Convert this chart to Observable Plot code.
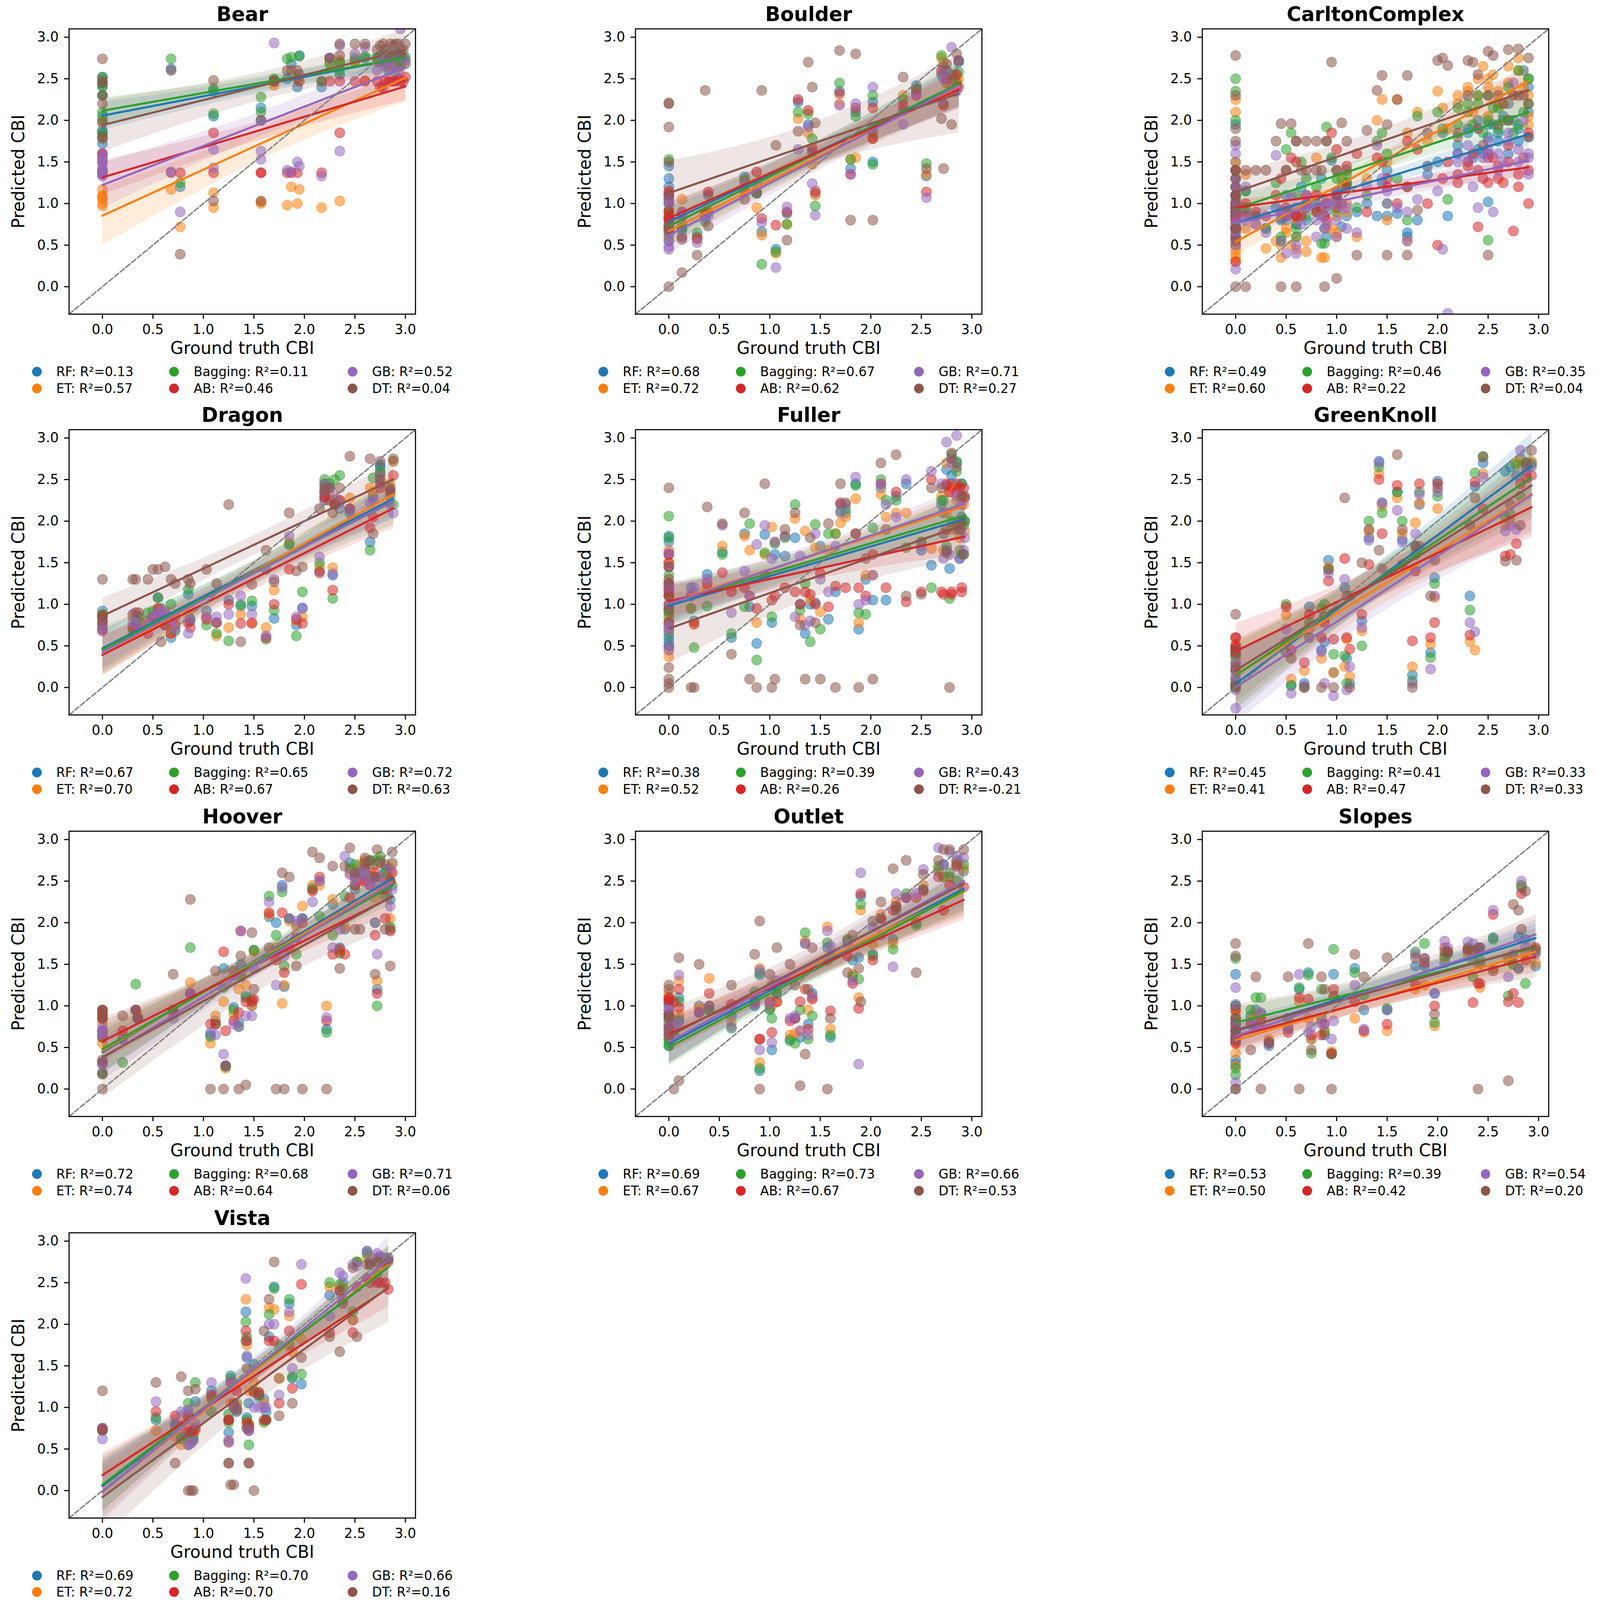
<!DOCTYPE html>
<html><head><meta charset="utf-8">
<script src="https://cdn.jsdelivr.net/npm/d3@7"></script>
<script src="https://cdn.jsdelivr.net/npm/@observablehq/plot@0.6"></script>
<style>
html,body{margin:0;padding:0;background:#fff;overflow:hidden;}
#root{position:relative;background:#fff;overflow:hidden;font-family:"DejaVu Sans",sans-serif;}
.panel{position:absolute;}
.leg{position:absolute;display:flex;align-items:center;color:#000;white-space:nowrap;font-family:"DejaVu Sans",sans-serif;}
.leg span.m{display:inline-block;border-radius:50%;}
</style></head><body><div id="root"></div>
<script>
const models = ["RF","ET","Bagging","AB","GB","DT"];
const colors = ["#1f77b4","#ff7f0e","#2ca02c","#d62728","#9467bd","#8c564b"];
const lims = [-0.33, 3.10];
const tickValues = [0,0.5,1,1.5,2,2.5,3];

// ---- Bear ----
const bearX  = [0,0,0,0,0,0,0,0, 0.68,0.77, 1.1,1.1, 1.57,1.57, 1.7, 1.83,1.87,1.93,1.95, 2.17, 2.25,2.35,2.35, 2.5,2.6, 2.75,2.8,2.85,2.9,2.95,3.0, 2.72,2.78,2.83,2.88,2.93,2.98];
const bearRF = [2.52,2.42,1.85,1.72,2.05,2.3,2.45,1.88, 2.62,1.2, 2.35,2.05, 2.15,2.0, 2.48, 2.5,2.68,2.4,2.78, 2.4, 2.75,2.55,2.68, 2.72,2.75, 2.78,2.72,2.8,2.75,2.7,2.68, 2.75,2.7,2.78,2.72,2.8,2.75];
const bearET = [1.17,1.07,0.97,1.05,2.0,1.08,1.0,1.1, 1.17,0.72, 1.13,0.95, 1.0,1.02, 2.42, 0.98,1.2,1.0,1.17, 0.95, 2.7,1.03,2.72, 2.7,2.48, 2.75,2.7,2.8,2.72,2.65,2.7, 2.7,2.75,2.68,2.72,2.65,2.75];
const bearBag = [2.52,2.45,2.0,1.8,2.1,2.3,2.4,1.85, 2.74,1.25, 2.38,2.08, 2.28,2.1, 2.5, 2.74,2.76,2.5,2.77, 2.47, 2.68,2.7,2.6, 2.75,2.77, 2.7,2.8,2.75,2.58,2.7,2.76, 2.75,2.72,2.6,2.78,2.7,2.75];
const bearAB = [1.6,1.55,1.38,1.4,1.35,1.6,1.5,1.38, 1.37,1.37, 1.85,1.37, 1.37,1.37, 2.47, 1.37,1.37,1.37,2.47, 1.37, 2.47,1.85,2.47, 2.47,2.47, 2.4,2.47,2.47,2.47,2.47,2.52, 2.47,2.4,2.47,2.47,2.5,2.47];
const bearGB = [1.6,1.5,1.42,1.33,1.38,1.55,1.48,1.35, 1.38,0.9, 1.65,1.43, 1.63,1.53, 2.93, 1.4,1.38,1.5,1.45, 1.33, 2.75,1.63,2.9, 2.8,2.88, 2.7,2.65,2.6,2.8,3.1,2.72, 2.6,2.75,2.7,2.65,2.6,2.75];
const bearDT = [2.74,2.48,2.2,2.3,1.97,1.8,2.45,1.78, 2.6,0.39, 2.48,1.03, 1.03,2.0, 2.47, 2.6,2.6,2.6,2.55, 2.47, 2.75,2.92,2.78, 2.92,2.92, 2.9,2.85,2.92,2.92,2.8,2.92, 2.85,2.92,2.8,2.9,2.92,2.85];
const bearR2 = [0.13,0.57,0.11,0.46,0.52,0.04];

// ---- Boulder ----
const boulderX  = [0,0,0,0,0,0,0,0, 0.13,0.13, 0.28,0.36,0.39, 0.75,0.87,0.92,1.06,1.17, 1.28,1.38,1.42,1.45, 1.69,1.8,1.85, 2.02,2.02, 2.32,2.45,2.55, 2.7,2.72,2.75,2.8,2.85,2.87];
const boulderRF = [1.45,1.3,1.2,0.6,0.55,0.9,0.82,1.0, 0.7,0.68, 0.6,0.85,1.1, 1.32,1.12,0.66,0.45,0.88, 2.22,1.95,1.62,1.12, 2.35,1.42,2.1, 2.22,1.5, 2.12,2.42,1.33, 2.55,2.65,2.45,2.5,2.4,2.7];
const boulderET = [1.1,0.75,0.7,0.9,0.82,1.05,0.68,0.6, 1.05,0.6, 0.57,0.9,0.92, 1.28,0.95,0.62,0.4,0.75, 2.02,1.85,1.47,1.1, 2.2,1.53,1.55, 1.8,1.78, 2.3,2.35,1.35, 2.75,2.7,2.45,2.55,2.48,2.5];
const boulderBag = [1.53,1.1,0.7,0.82,0.9,0.65,0.75,1.0, 0.75,0.7, 0.65,0.78,0.9, 1.28,1.13,0.27,0.42,0.75, 2.1,2.08,1.78,0.97, 2.45,1.53,2.05, 2.3,1.47, 2.25,2.38,1.48, 2.78,2.2,2.6,2.55,2.45,2.58];
const boulderAB = [1.12,1.15,0.92,0.82,0.8,1.05,0.7,0.85, 0.9,0.85, 0.58,0.88,1.14, 1.15,1.38,0.82,0.74,0.9, 2.25,2.12,1.67,1.15, 2.32,1.35,2.15, 2.15,1.78, 2.18,2.3,1.14, 2.6,2.18,2.5,2.35,2.55,2.4];
const boulderGB = [1.05,1.0,0.48,0.45,0.55,0.65,0.72,1.08, 0.88,0.6, 0.53,0.82,0.85, 1.25,1.23,0.77,0.23,0.96, 1.65,1.92,1.24,0.86, 2.18,1.35,2.2, 2.4,1.92, 1.95,2.32,1.07, 2.25,2.5,2.6,2.88,2.35,2.72];
const boulderDT = [2.21,2.2,1.92,1.5,0.72,0.68,0.0,1.1, 0.57,0.17, 0.38,2.36,0.73, 1.05,1.13,2.36,1.7,0.56, 1.87,2.7,2.4,1.97, 2.84,0.8,2.8, 1.85,0.8, 2.52,2.38,1.42, 2.02,1.42,2.68,1.95,2.8,2.72];
const boulderR2 = [0.68,0.72,0.67,0.62,0.71,0.27];

// ---- CarltonComplex ----
const carltonX  = [0,0,0,0,0,0,0,0,0,0, 0.1,0.2,0.3,0.4,0.45,0.5,0.55,0.6,0.65,0.7, 0.8,0.85,0.9,0.95,1.0,1.05,1.1,1.2,1.3,1.4, 1.45,1.5,1.6,1.7,1.8,1.9,2.0,2.05,2.1,2.2, 2.3,2.35,2.4,2.5,2.55,2.6,2.7,2.75,2.8,2.9,2.9, 0.1,0.45,0.6,0.88,1.0,1.5,1.7,2.5, 0,0,0,0,0, 0.5,0.6,0.7,0.8,0.9,1.0,1.1, 2.2,2.3,2.4,2.45,2.5,2.6,2.65,2.7,2.8,2.85,2.9];
const carltonRF = [1.95,1.5,1.2,0.9,0.7,1.0,0.5,1.3,0.85,0.6, 1.15,0.85,0.7,0.95,0.82,1.1,0.9,0.75,1.2,0.8, 0.95,1.3,0.6,1.52,1.1,0.72,1.25,0.9,1.0,0.85, 1.25,1.4,0.88,0.65,0.8,1.35,1.5,1.85,0.85,1.6, 1.9,1.55,1.65,1.02,1.95,1.75,1.6,2.0,1.9,2.4,2.1, 0.9,0.8,0.85,0.7,1.1,0.85,0.6,1.8, 0.8,0.7,0.95,0.6,1.05, 0.8,0.75,0.95,1.0,0.9,1.15,0.85, 1.7,1.85,2.0,1.6,1.95,1.85,2.05,2.2,1.75,2.6,1.8];
const carltonET = [2.25,2.1,1.5,0.3,0.5,0.8,0.35,1.0,0.6,0.45, 1.35,0.75,0.46,0.55,0.35,0.7,0.5,0.6,0.9,0.42, 1.55,0.35,1.05,0.7,0.65,1.3,0.9,0.6,1.3,2.0, 2.25,1.5,2.25,1.85,2.1,1.75,2.35,2.15,1.9,2.3, 2.35,2.1,2.5,2.4,2.55,2.2,2.65,2.3,2.6,1.95,2.05, 0.7,0.5,0.45,0.35,0.6,0.8,0.55,2.05, 0.55,0.7,0.4,0.9,0.6, 0.65,0.8,0.55,0.9,0.7,0.85,1.0, 2.2,2.4,2.3,2.65,2.5,2.35,2.2,2.45,2.75,2.4,2.3];
const carltonBag = [2.5,2.35,2.0,1.1,0.8,1.2,0.6,1.4,0.9,0.7, 1.15,0.85,0.7,1.25,0.55,1.65,1.85,0.6,1.5,1.3, 0.9,0.52,1.92,1.55,1.0,1.2,1.35,0.95,1.1,1.75, 1.85,1.6,1.3,1.2,2.05,1.45,2.1,1.9,1.05,2.15, 2.2,1.95,2.3,0.56,2.15,1.9,2.0,1.85,2.6,2.5,2.2, 0.95,0.6,0.7,0.52,0.9,1.0,0.8,2.0, 0.9,0.75,1.0,0.65,0.85, 0.9,1.1,0.85,1.2,1.0,1.3,1.25, 1.95,2.1,2.2,1.85,2.3,2.15,2.0,2.4,1.95,2.1,2.5];
const carltonAB = [1.4,1.1,0.9,0.95,0.7,0.3,1.2,0.85,1.0,0.6, 1.0,0.9,0.85,1.1,1.3,0.85,1.55,1.5,0.85,1.0, 1.1,0.95,0.8,1.85,1.65,1.0,1.45,1.6,0.9,1.55, 1.5,1.2,1.0,1.75,1.65,1.0,0.5,1.3,1.5,1.25, 1.45,1.6,0.72,1.25,1.55,1.3,1.7,0.67,1.2,1.0,1.85, 0.85,0.9,0.85,0.85,0.95,1.3,1.2,1.55, 0.95,0.8,1.1,0.85,1.0, 0.95,0.85,1.1,0.9,1.0,1.05,1.2, 1.35,1.5,1.4,1.3,1.6,1.45,1.25,1.5,1.35,1.55,1.4];
const carltonGB = [1.7,1.6,1.3,1.0,0.8,0.5,0.21,1.2,0.9,0.65, 1.2,0.75,0.65,1.58,0.9,0.4,1.1,0.5,0.75,0.95, 0.6,0.85,0.75,1.0,0.6,0.95,0.7,0.65,1.2,1.7, 1.3,1.15,0.95,0.55,1.05,1.45,1.15,0.45,-0.32,1.5, 1.55,1.2,0.95,1.65,0.9,1.4,1.75,2.45,1.5,1.55,1.35, 0.8,0.55,0.4,0.7,0.8,1.0,0.9,1.6, 0.9,0.75,1.0,0.6,1.1, 0.85,0.95,1.1,0.8,1.0,1.15,0.95, 1.6,1.7,1.9,1.55,1.75,1.6,1.5,1.85,1.65,2.0,1.6];
const carltonDT = [2.78,2.3,1.9,1.75,1.4,0.7,0.0,0.55,1.1,1.4, 1.4,1.4,1.4,1.75,1.96,1.4,1.96,1.75,1.4,1.75, 1.75,1.4,1.75,2.7,1.4,1.97,1.75,0.38,1.88,2.36, 2.54,1.95,2.25,2.54,0.92,1.85,2.72,2.75,2.66,1.85, 2.72,2.7,2.55,2.83,2.78,2.3,2.85,2.3,2.86,2.75,1.8, 0.0,0.0,0.0,0.0,0.1,0.38,0.38,0.38, 1.1,0.9,1.3,1.0,0.7, 1.4,1.75,1.4,1.4,1.75,1.4,1.4, 1.8,2.3,1.9,1.7,2.3,1.95,2.2,2.0,2.3,2.3,2.2];
const carltonR2 = [0.49,0.60,0.46,0.22,0.35,0.04];

// ---- Dragon ----
const dragonX  = [0,0,0, 0.3,0.33,0.36, 0.45,0.5,0.55,0.58,0.62,0.68,0.72, 0.85,0.87,1.03,1.13,1.25,1.37,1.48, 1.62,1.7,1.85,1.92,1.98, 2.15,2.2,2.28,2.35,2.45, 2.65,2.68,2.75,2.88, 2.2,2.25,2.3,2.75,2.85];
const dragonRF = [0.92,0.85,0.7, 0.88,0.75,0.8, 0.8,0.78,1.08,0.95,0.88,0.6,0.85, 1.12,0.8,0.92,0.78,1.05,0.98,0.98, 1.42,0.83,1.72,0.75,0.95, 1.4,2.25,1.35,2.15,2.15, 1.75,2.3,2.68,2.72, 2.35,2.4,2.2,2.65,2.4];
const dragonET = [0.88,0.78,0.72, 0.85,0.72,0.8, 0.78,0.75,0.95,0.9,0.92,0.65,0.85, 0.88,0.95,0.85,0.62,0.72,0.88,0.78, 0.72,1.17,1.75,0.8,0.85, 1.45,2.45,1.44,2.25,2.28, 2.4,2.35,2.55,2.72, 2.4,2.3,2.25,2.5,2.45];
const dragonBag = [0.85,0.88,0.75, 0.68,0.8,0.85, 0.9,0.92,1.08,0.82,0.75,1.0,0.68, 1.18,0.82,0.75,0.65,0.56,1.0,1.04, 0.58,0.93,1.72,0.62,1.15, 1.5,2.45,1.07,2.55,2.1, 1.65,2.52,2.58,2.2, 2.5,2.45,2.5,2.6,2.3];
const dragonAB = [0.68,0.78,0.85, 0.72,0.9,0.7, 0.65,0.85,0.95,0.88,0.75,0.65,0.75, 0.78,0.72,0.82,0.78,1.0,0.77,0.77, 0.6,1.0,1.42,0.82,0.77, 1.38,2.28,1.17,2.25,2.15, 1.92,2.05,2.4,2.55, 2.3,2.25,2.2,2.45,2.35];
const dragonGB = [0.72,0.8,0.7, 0.78,0.85,0.72, 0.75,0.85,0.9,0.92,0.9,0.82,0.7, 0.65,0.82,0.85,0.85,0.88,1.1,0.88, 0.62,1.3,1.82,0.85,0.96, 1.57,2.35,1.37,2.22,2.12, 2.22,2.25,2.45,2.1, 2.45,2.4,2.3,2.55,2.2];
const dragonDT = [1.3,0.87,0.8, 1.3,1.3,0.9, 1.3,1.42,1.42,0.55,1.45,1.3,1.25, 1.3,1.25,1.42,1.25,2.2,0.55,1.24, 1.65,1.27,2.1,1.4,1.45, 2.15,2.4,2.1,2.4,2.78, 2.75,1.85,2.72,2.75, 2.35,2.4,2.2,2.5,2.38];
const dragonR2 = [0.67,0.70,0.65,0.67,0.72,0.63];

// ---- Fuller ----
const fullerX  = [0,0,0,0,0,0,0,0,0,0, 0.22,0.25,0.38,0.53,0.62,0.75,0.8,0.87,0.95,1.02, 1.05,1.15,1.25,1.3,1.35,1.4,1.45,1.5,1.58,1.65, 1.7,1.75,1.85,1.88,1.95,2.02,2.1,2.15,2.25,2.35, 2.5,2.6,2.72,2.75,2.78,2.8,2.85,2.88,2.9,2.93, 2.7,2.75,2.8,2.85,2.9,2.92];
const fullerRF = [1.82,1.6,1.2,0.55,0.6,1.75,0.95,1.15,0.5,0.85, 1.2,0.8,1.36,1.63,0.6,1.85,0.97,0.53,1.84,0.78, 1.6,1.58,1.8,1.0,0.65,1.0,1.02,1.7,0.82,1.15, 2.2,2.1,2.45,0.7,1.3,1.05,2.4,1.05,2.3,2.45, 1.65,1.47,2.1,2.62,1.43,2.55,2.7,1.55,2.45,2.0, 2.2,1.65,2.45,1.9,2.05,1.6];
const fullerET = [1.65,1.2,0.37,1.0,0.45,1.5,0.8,1.1,0.7,0.9, 0.95,0.78,1.2,1.7,1.22,1.82,1.65,0.78,1.6,1.93, 1.75,1.82,2.03,0.83,1.88,1.05,1.68,0.91,1.65,1.85, 1.98,2.05,2.27,0.78,1.35,1.35,2.32,2.05,2.1,2.1, 1.75,1.67,1.65,2.7,2.35,2.4,2.25,1.8,2.3,1.88, 2.3,2.1,1.9,2.4,2.0,2.2];
const fullerBag = [2.06,1.8,1.35,0.65,0.5,1.1,0.9,0.95,1.25,0.78, 0.95,0.48,0.98,1.6,0.65,0.97,1.97,0.33,1.62,0.85, 1.73,1.8,2.2,0.93,1.25,0.55,1.96,0.7,1.85,1.85, 2.12,2.15,2.43,0.9,0.88,1.92,2.5,2.25,2.25,1.68, 1.75,1.2,2.25,1.65,1.07,2.8,2.72,1.65,1.6,2.0, 2.25,1.7,2.0,2.6,2.45,1.95];
const fullerAB = [1.6,1.5,1.2,1.15,1.1,1.25,1.18,0.78,1.45,1.0, 1.1,0.76,1.25,1.38,1.15,1.2,1.1,0.95,1.35,1.05, 1.1,1.2,1.15,1.0,1.15,1.12,1.0,1.37,0.97,1.22, 2.22,1.2,1.85,1.2,1.1,1.6,2.45,1.2,2.35,1.03, 1.15,2.5,1.12,2.43,2.35,1.15,2.45,2.4,1.15,2.28, 1.15,2.45,1.12,2.35,1.2,2.4];
const fullerGB = [1.62,1.45,1.25,0.75,0.72,0.5,1.0,0.68,0.45,1.2, 1.1,1.2,1.3,1.95,0.9,1.4,1.1,1.72,1.95,1.55, 1.75,1.82,0.85,1.58,0.75,0.8,1.85,1.3,1.15,1.7, 2.1,2.2,2.53,1.0,1.05,1.35,2.45,2.2,2.05,2.5, 1.7,2.6,1.55,2.95,1.6,2.75,3.03,1.55,2.2,1.8, 2.45,1.65,2.7,2.3,1.9,1.65];
const fullerDT = [2.4,1.3,1.1,0.24,0.1,1.45,0.0,0.93,1.25,0.05, 0.0,0.0,2.17,1.97,0.4,2.1,0.1,0.0,2.45,0.0, 0.1,1.9,2.1,0.75,0.1,1.8,0.78,0.1,1.97,0.0, 2.45,2.22,1.85,0.0,1.55,0.1,2.7,1.9,2.8,1.1, 1.12,2.4,1.85,1.62,0.0,2.82,2.65,1.9,2.0,2.3, 2.4,1.9,2.75,1.95,2.3,1.6];
const fullerR2 = [0.38,0.52,0.39,0.26,0.43,-0.21];

// ---- GreenKnoll ----
const gkX  = [0,0,0,0,0,0, 0.5,0.55,0.68,0.73,0.85,0.88,0.92,0.97,1.08,1.1, 1.13,1.25,1.32,1.42,1.45,1.6,1.65,1.75,1.78,1.82, 1.93,1.97,2.0,2.32,2.37,2.45,2.67,2.72,2.78,2.82, 2.88,2.93];
const gkRF = [0.02,0.45,0.1,0.3,0.05,0.4, 0.55,0.03,0.05,0.97,0.45,0.55,1.53,0.18,1.2,0.35, 0.05,0.8,1.8,2.72,2.22,2.35,1.78,0.15,1.7,2.2, 0.42,1.32,2.48,1.1,2.42,2.7,2.6,2.65,2.55,2.75, 2.65,2.7];
const gkET = [0.1,0.52,0.05,0.45,0.2,0.35, 0.87,0.1,0.2,0.75,0.35,0.85,1.45,0.18,0.25,0.58, 0.13,0.68,1.88,2.57,2.18,2.28,1.85,0.25,1.98,2.22, 0.52,1.08,2.15,0.55,0.45,2.57,1.95,2.0,2.7,2.72, 2.6,2.72];
const gkBag = [0.38,0.45,0.05,0.02,0.4,0.0, 1.0,0.02,0.0,0.78,0.95,1.0,1.42,0.4,0.38,0.05, 1.1,0.5,2.0,2.65,2.1,2.35,2.0,0.08,1.6,2.35, 0.36,1.25,2.3,0.93,2.58,2.78,2.05,2.08,2.68,2.3, 2.7,2.68];
const gkAB = [0.6,0.48,0.45,0.5,0.6,0.42, 0.97,0.45,0.3,0.88,0.6,0.78,1.28,0.58,1.55,0.6, 0.46,0.88,1.48,2.5,1.85,2.43,1.48,0.56,1.4,2.45, 0.6,0.78,2.45,0.63,2.47,2.15,1.58,1.6,1.73,2.45, 2.52,2.55];
const gkGB = [0.3,-0.03,0.15,-0.25,0.1,0.2, 0.7,-0.07,0.02,0.7,0.43,0.05,1.37,-0.1,1.3,-0.03, 0.25,0.72,1.77,2.7,2.22,2.13,1.75,0.05,1.85,2.32, 0.22,1.1,2.35,0.78,0.67,2.53,1.88,1.95,1.9,2.85, 2.62,2.65];
const gkDT = [0.88,0.25,0.0,0.02,0.45,0.22, 0.42,0.35,0.0,0.6,0.0,0.85,1.42,0.0,2.28,1.1, 0.0,1.5,1.9,1.65,1.43,2.8,1.9,0.0,1.7,1.7, 1.1,1.53,2.4,1.95,2.28,2.77,1.52,2.2,1.53,1.95, 2.7,2.85];
const gkR2 = [0.45,0.41,0.41,0.47,0.33,0.33];

// ---- Hoover ----
const hooverX  = [0,0,0,0,0,0, 0.2,0.33,0.35,0.7,0.87, 1.07,1.12,1.2,1.22,1.3,1.35,1.37,1.42,1.48,1.5, 1.65,1.72,1.78,1.8,1.85,1.92,1.98,2.08,2.15,2.22, 2.28,2.35,2.4,2.45,2.5,2.55,2.6,2.65,2.7,2.72, 2.75,2.8,2.85,2.87, 2.5,2.6,2.7,2.8,2.85];
const hooverRF = [0.95,0.7,0.2,0.65,0.85,0.3, 0.6,0.95,0.85,0.95,1.15, 0.65,0.82,1.45,0.28,0.98,0.8,1.5,1.12,1.0,1.67, 2.07,2.0,2.45,1.23,2.05,1.98,2.05,2.42,2.5,0.72, 2.22,1.7,1.92,2.72,2.4,2.6,2.65,2.55,2.7,1.2, 2.75,2.4,2.28,2.72, 2.6,2.7,2.55,2.65,2.5];
const hooverET = [0.92,0.8,0.55,0.68,0.88,0.3, 0.62,0.95,0.88,0.95,1.28, 0.55,0.88,1.05,0.25,0.9,1.2,1.38,1.25,1.0,1.65, 2.1,1.7,1.03,1.25,2.02,1.95,2.2,2.45,2.45,1.0, 2.28,1.65,1.95,2.6,2.55,2.7,2.75,2.6,2.3,1.3, 2.75,2.5,2.05,2.7, 2.65,2.6,2.7,2.55,2.6];
const hooverBag = [0.95,0.62,0.18,0.7,0.85,0.32, 0.32,1.26,0.85,0.95,1.7, 0.63,0.78,1.22,0.27,0.95,0.75,1.35,1.1,1.08,1.67, 2.32,1.85,2.37,1.48,2.05,1.62,2.05,2.4,2.08,0.68, 1.85,1.63,2.32,2.65,2.45,2.6,2.6,2.75,2.0,1.0, 2.8,2.32,1.95,2.45, 2.7,2.55,2.75,2.6,2.5];
const hooverAB = [0.95,0.85,0.9,0.7,0.62,0.32, 0.7,0.95,0.85,0.92,1.15, 0.78,0.78,1.65,0.7,0.82,0.92,1.9,1.05,1.05,1.08, 2.12,1.55,2.12,1.4,1.7,1.82,2.0,2.38,2.55,0.82, 1.62,1.68,1.62,2.3,2.55,2.5,2.65,2.45,1.85,1.15, 2.4,2.05,1.9,2.6, 2.45,2.5,2.6,2.4,2.5];
const hooverGB = [0.75,0.7,0.32,0.65,0.68,0.3, 0.6,0.95,0.85,0.85,1.15, 0.68,0.65,0.42,0.28,0.78,0.75,1.9,0.88,0.88,1.45, 2.25,1.25,2.42,1.6,2.05,2.02,2.05,2.25,2.5,0.86, 1.7,1.92,2.8,2.58,2.5,2.62,2.55,2.45,2.0,1.62, 2.55,2.45,2.2,2.4, 2.55,2.6,2.5,2.45,2.65];
const hooverDT = [0.95,0.9,0.18,0.0,0.85,0.35, 0.88,0.95,0.85,1.38,2.28, 0.0,1.42,0.0,0.28,1.42,0.0,1.6,0.05,1.88,1.2, 1.7,0.0,2.6,0.0,2.55,1.48,0.0,2.85,2.78,0.0, 2.68,1.45,2.68,2.9,1.92,1.92,2.78,2.75,1.38,2.88, 2.72,1.92,1.48,2.85, 2.6,2.72,2.55,2.7,1.92];
const hooverR2 = [0.72,0.74,0.68,0.64,0.71,0.06];

// ---- Outlet ----
const outletX  = [0,0,0,0,0,0, 0.05,0.1,0.1,0.3,0.4,0.62, 0.85,0.9,0.9,1.0,1.02,1.07,1.2,1.25, 1.3,1.35,1.38,1.42,1.57,1.6,1.77,1.82,1.88,1.9, 2.02,2.1,2.22,2.25,2.35,2.45,2.52,2.67,2.72,2.78, 2.85,2.92];
const outletRF = [1.0,0.75,0.52,0.9,1.05,0.6, 0.7,1.1,0.85,1.0,0.95,0.88, 1.0,1.37,0.22,0.97,0.47,1.15,0.6,0.85, 0.62,1.75,0.78,1.15,1.7,0.62,1.78,1.55,1.58,2.32, 1.62,2.05,1.8,2.2,2.3,2.0,2.4,2.62,2.7,2.55, 2.75,2.62];
const outletET = [1.1,0.85,0.62,0.95,1.15,0.7, 0.75,1.3,0.9,0.98,1.33,0.8, 1.05,1.45,0.32,1.0,1.0,1.05,0.65,0.67, 0.7,1.78,0.95,1.1,1.95,0.72,1.8,1.38,1.1,2.15, 1.75,2.1,1.75,2.25,2.3,2.05,2.45,2.65,2.55,2.55, 2.72,2.65];
const outletBag = [0.55,0.8,0.52,0.9,0.85,0.6, 0.65,1.05,0.82,0.92,0.95,0.73, 1.17,1.4,0.25,0.95,0.85,1.15,0.58,0.55, 0.95,1.88,0.6,0.88,1.76,0.65,1.8,1.35,1.32,2.22, 1.6,2.05,1.68,2.18,2.35,1.97,2.4,2.68,2.55,2.6, 2.5,2.7];
const outletAB = [1.08,0.9,0.65,1.05,1.1,0.75, 1.05,1.2,0.98,0.92,1.15,1.02, 1.05,0.6,0.6,1.05,0.68,1.05,0.82,0.85, 1.05,1.2,0.72,1.08,1.55,0.94,1.6,1.27,0.97,2.35, 1.55,2.05,2.15,2.2,2.3,2.3,2.38,2.55,2.15,2.45, 2.68,2.43];
const outletGB = [0.95,0.75,0.65,0.85,0.95,0.7, 0.75,1.37,0.8,0.92,1.0,0.75, 1.02,1.43,0.47,1.02,0.56,1.3,0.85,0.88, 0.7,1.75,0.65,1.12,1.9,1.72,1.75,1.3,0.3,2.6, 1.95,1.85,1.47,2.35,2.3,2.35,2.64,2.9,2.7,2.85, 2.8,2.78];
const outletDT = [1.25,0.85,0.72,1.2,0.88,0.65, 0.0,1.58,0.1,1.5,1.0,1.25, 1.62,2.02,0.0,1.38,1.25,1.7,1.5,1.25, 0.04,0.42,1.2,1.7,0.0,0.85,1.4,1.85,1.45,1.05, 2.02,2.25,2.65,2.15,2.75,1.4,2.58,2.75,2.88,2.88, 2.7,2.88];
const outletR2 = [0.69,0.67,0.73,0.67,0.66,0.53];

// ---- Slopes ----
const slopesX  = [0,0,0,0,0,0,0,0, 0.15,0.2,0.25,0.33,0.52,0.63,0.72,0.75,0.85,0.88, 0.95,0.97,1.18,1.27,1.5,1.78,1.87,1.97,2.07,2.1, 2.3,2.35,2.4,2.42,2.55,2.7,2.75,2.8,2.83,2.87, 2.97];
const slopesRF = [1.38,0.35,0.3,0.85,0.6,1.0,0.7,0.78, 0.88,0.95,0.9,0.52,0.75,1.2,1.4,0.6,0.85,0.65, 0.42,1.38,1.45,0.95,0.95,1.48,1.48,1.15,1.52,1.65, 1.65,1.55,1.7,1.5,1.82,1.55,1.6,1.83,2.42,1.8, 1.48];
const slopesET = [0.95,0.43,0.28,0.8,0.55,0.9,0.62,0.68, 0.82,0.9,0.85,0.6,0.72,1.05,0.85,0.6,0.8,0.7, 0.45,1.1,0.85,0.68,0.7,1.2,1.25,0.76,1.58,1.65, 1.6,1.62,1.5,1.22,1.45,1.58,1.5,1.45,2.45,1.62, 1.52];
const slopesBag = [1.57,0.17,0.25,0.85,1.0,1.0,0.7,0.78, 0.95,1.1,1.1,0.55,0.85,1.22,1.37,0.43,1.2,0.68, 0.42,1.68,1.4,1.13,0.97,1.65,1.75,0.8,1.6,1.62, 1.7,1.35,1.68,1.55,1.8,1.12,1.5,1.45,2.45,1.27, 1.68];
const slopesAB = [0.6,0.78,0.55,0.65,0.58,0.95,0.7,0.62, 0.78,0.75,0.82,0.55,0.68,1.1,1.08,0.65,0.65,0.78, 0.43,1.2,1.05,0.7,0.78,1.25,1.52,1.0,1.7,1.65, 1.68,1.04,1.27,1.27,2.1,1.05,1.15,1.04,2.35,1.55, 1.7];
const slopesGB = [1.22,0.08,1.02,0.7,0.65,0.75,0.8,0.6, 0.78,0.78,0.92,0.55,0.72,1.38,0.68,0.75,0.78,0.78, 0.6,0.82,1.25,0.72,0.95,1.62,1.57,1.15,1.78,1.7, 1.77,1.75,1.68,1.7,2.15,1.35,1.62,1.45,2.5,1.7, 1.62];
const slopesDT = [1.75,1.6,0.0,0.0,0.72,0.85,0.6,0.7, 0.47,1.35,0.0,0.57,1.35,0.0,1.75,0.47,1.35,1.2, 0.0,1.12,1.62,1.35,1.58,1.58,1.57,0.9,1.65,1.65, 1.68,1.67,0.0,1.7,1.42,0.1,2.22,2.15,1.92,2.38, 1.65];
const slopesR2 = [0.53,0.50,0.39,0.42,0.54,0.20];

// ---- Vista ----
const vistaX  = [0,0, 0.53,0.72,0.78,0.85,0.88,0.92, 1.08,1.25,1.27,1.33,1.42,1.43,1.45,1.5, 1.6,1.65,1.7,1.75,1.85,1.88,1.97, 2.25,2.35,2.38,2.48,2.52,2.62,2.72,2.8,2.83, 0.85,0.9,1.25,1.3,1.43,1.45,1.55,1.62,2.65,2.75];
const vistaRF = [0.73,0.75, 0.85,0.78,0.65,0.92,0.6,1.07, 1.2,0.7,1.38,0.95,2.15,1.6,1.05,1.52, 1.1,1.85,2.45,1.35,2.25,1.35,1.28, 2.35,2.4,2.5,2.05,2.75,2.88,2.8,2.75,2.78, 0.55,0.65,0.85,1.0,0.88,0.75,1.12,0.95,2.75,2.8];
const vistaET = [0.75,0.73, 0.72,0.65,0.55,0.85,0.7,0.72, 1.1,0.6,1.05,1.0,2.3,1.75,1.2,1.3, 1.05,2.2,2.18,1.35,2.1,1.67,1.82, 2.45,2.45,2.45,2.05,2.75,2.8,2.65,2.75,2.78, 0.6,0.7,0.58,1.05,0.8,0.72,1.18,0.85,2.82,2.7];
const vistaBag = [0.72,0.73, 0.88,0.8,0.62,1.05,0.7,1.3, 0.95,0.92,1.35,1.05,2.03,1.85,0.55,1.2, 0.82,2.12,2.43,1.75,2.3,1.37,1.4, 2.5,2.48,2.42,2.15,2.75,2.85,2.6,2.78,2.8, 0.65,0.62,0.82,1.0,0.85,0.8,1.15,0.85,2.72,2.8];
const vistaAB = [0.73,0.75, 0.95,0.9,0.78,0.88,0.72,0.75, 1.15,0.85,1.3,1.2,1.92,1.8,0.75,1.18, 0.85,1.8,1.8,1.05,1.92,1.23,2.48, 1.9,2.4,2.3,1.9,2.45,2.55,2.5,2.5,2.42, 0.7,0.72,0.85,1.05,0.82,0.78,1.18,0.85,2.5,2.5];
const vistaGB = [0.62,0.75, 1.07,0.8,0.95,0.97,0.57,0.8, 1.3,0.58,1.3,0.98,2.55,1.62,0.72,1.0, 1.0,2.0,2.0,1.15,2.15,1.47,2.72, 2.1,2.62,2.58,2.72,2.7,2.88,2.85,2.8,2.78, 0.55,0.6,0.6,1.0,0.75,0.72,1.0,1.0,2.75,2.82];
const vistaDT = [1.2,0.73, 1.3,0.33,1.37,1.2,0.0,1.22, 1.12,0.33,0.07,0.97,1.8,1.47,0.33,0.0, 1.92,2.3,2.75,0.9,1.75,1.05,1.6, 1.85,1.67,2.25,2.68,1.85,2.72,2.75,2.72,2.75, 0.0,0.0,0.33,0.07,0.75,0.33,1.15,0.85,2.72,2.75];
const vistaR2 = [0.69,0.72,0.70,0.70,0.66,0.16];

const panels = [
  {name:"Bear", x:bearX, ys:[bearRF,bearET,bearBag,bearAB,bearGB,bearDT], r2:bearR2},
  {name:"Boulder", x:boulderX, ys:[boulderRF,boulderET,boulderBag,boulderAB,boulderGB,boulderDT], r2:boulderR2},
  {name:"CarltonComplex", x:carltonX, ys:[carltonRF,carltonET,carltonBag,carltonAB,carltonGB,carltonDT], r2:carltonR2},
  {name:"Dragon", x:dragonX, ys:[dragonRF,dragonET,dragonBag,dragonAB,dragonGB,dragonDT], r2:dragonR2},
  {name:"Fuller", x:fullerX, ys:[fullerRF,fullerET,fullerBag,fullerAB,fullerGB,fullerDT], r2:fullerR2},
  {name:"GreenKnoll", x:gkX, ys:[gkRF,gkET,gkBag,gkAB,gkGB,gkDT], r2:gkR2},
  {name:"Hoover", x:hooverX, ys:[hooverRF,hooverET,hooverBag,hooverAB,hooverGB,hooverDT], r2:hooverR2},
  {name:"Outlet", x:outletX, ys:[outletRF,outletET,outletBag,outletAB,outletGB,outletDT], r2:outletR2},
  {name:"Slopes", x:slopesX, ys:[slopesRF,slopesET,slopesBag,slopesAB,slopesGB,slopesDT], r2:slopesR2},
  {name:"Vista", x:vistaX, ys:[vistaRF,vistaET,vistaBag,vistaAB,vistaGB,vistaDT], r2:vistaR2}
];

// layout designed for 4180 x 5076, fitted to the actual viewport
const W0 = 4180, H0 = 5076;
const W = window.innerWidth || W0, H = window.innerHeight || H0;
const sx = W / W0, sy = H / H0, s = Math.sqrt(sx * sy);
const root = document.getElementById("root");
root.style.width = W + "px";
root.style.height = H + "px";

const colLeft = [180, 1660, 3140];
const rowTop = [91, 1363, 2637, 3910];
const AXW = 905 * sx, AXH = 905 * sy;
const ML = 180 * sx, MT = 91 * sy, MR = 120 * sx, MB = 276 * sy;
const legCol = [-84, 275, 741];
const legRow = [183, 236];
const fmt = d3.format(".1f");

panels.forEach((p, k) => {
  const L = colLeft[k % 3] * sx, T = rowTop[Math.floor(k / 3)] * sy;
  const series = models.map((m, i) => p.x.map((xv, j) => ({model: m, gt: xv, pred: p.ys[i][j]})).filter(d => d.pred !== undefined));
  const marks = [];
  series.forEach((d, i) => {
    marks.push(Plot.dot(d, {x: "gt", y: "pred", r: 14.5 * s, fill: colors[i], fillOpacity: 0.55, stroke: colors[i], strokeOpacity: 0.55, strokeWidth: 1.5 * s, clip: true}));
    marks.push(Plot.linearRegressionY(d, {x: "gt", y: "pred", stroke: "none", fill: colors[i], fillOpacity: 0.15, ci: 0.95, clip: true}));
  });
  series.forEach((d, i) => {
    marks.push(Plot.linearRegressionY(d, {x: "gt", y: "pred", stroke: colors[i], strokeWidth: 6 * s, ci: 0, clip: true}));
  });
  marks.push(Plot.line(lims.map(v => ({v})), {x: "v", y: "v", stroke: "#808080", strokeWidth: 4 * s, strokeDasharray: `${14.8 * s},${6.4 * s}`}));
  marks.push(Plot.frame({stroke: "#000", strokeWidth: 3.2 * s}));
  marks.push(Plot.axisX({ticks: tickValues, tickFormat: fmt, tickSize: 14 * s, tickPadding: 16 * s, strokeWidth: 3.2 * s, fontSize: 39 * s, label: null}));
  marks.push(Plot.axisY({ticks: tickValues, tickFormat: fmt, tickSize: 14 * s, tickPadding: 16 * s, strokeWidth: 3.2 * s, fontSize: 39 * s, label: null}));
  marks.push(Plot.text([p.name], {text: d => d, frameAnchor: "top", textAnchor: "middle", lineAnchor: "middle", dy: -45 * sy, fontSize: 57 * s, fontWeight: "bold", fill: "#000"}));
  marks.push(Plot.text(["Ground truth CBI"], {text: d => d, frameAnchor: "bottom", textAnchor: "middle", lineAnchor: "middle", dy: 109 * sy, fontSize: 49 * s, fill: "#000"}));
  marks.push(Plot.text(["Predicted CBI"], {text: d => d, frameAnchor: "left", textAnchor: "middle", lineAnchor: "middle", dx: -131 * sx, rotate: -90, fontSize: 49 * s, fill: "#000"}));

  const svg = Plot.plot({
    width: ML + AXW + MR, height: MT + AXH + MB,
    marginLeft: ML, marginTop: MT, marginRight: MR, marginBottom: MB,
    x: {domain: lims}, y: {domain: lims},
    style: {fontFamily: "DejaVu Sans", fontSize: `${39 * s}px`, background: "transparent", color: "#000", overflow: "visible"},
    marks
  });
  const wrap = document.createElement("div");
  wrap.className = "panel";
  wrap.style.left = (L - ML) + "px";
  wrap.style.top = (T - MT) + "px";
  wrap.appendChild(svg);
  root.appendChild(wrap);

  models.forEach((m, i) => {
    const col = Math.floor(i / 2), row = i % 2;
    const e = document.createElement("div");
    e.className = "leg";
    e.style.left = (L + legCol[col] * sx - 14 * s) + "px";
    e.style.top = (T + AXH + legRow[row] * sy - 25 * s) + "px";
    e.style.height = (50 * s) + "px";
    e.style.fontSize = (37 * s) + "px";
    const dot = document.createElement("span");
    dot.className = "m";
    dot.style.width = dot.style.height = (28 * s) + "px";
    dot.style.marginRight = (51 * sx - 14 * s) + "px";
    dot.style.background = colors[i];
    e.appendChild(dot);
    e.appendChild(document.createTextNode(`${m}: R\u00b2=${p.r2[i].toFixed(2)}`));
    root.appendChild(e);
  });
});
</script>
</body></html>
